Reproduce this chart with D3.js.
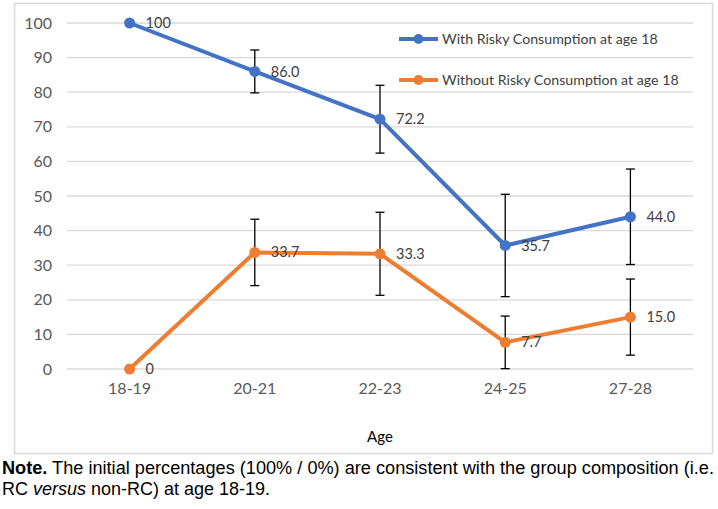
<!DOCTYPE html>
<html><head><meta charset="utf-8">
<script src="https://cdn.jsdelivr.net/npm/d3@7"></script>
<style>
body{margin:0;background:#fff;}
svg{display:block;}
</style></head>
<body>
<svg id="c" width="718" height="509"></svg>
<script>
const categories = ["18-19","20-21","22-23","24-25","27-28"];
const seriesNames = ["With Risky Consumption at age 18","Without Risky Consumption at age 18"];
const withRC = [100, 86.0, 72.2, 35.7, 44.0];
const withRCLabels = ["100","86.0","72.2","35.7","44.0"];
const withRCErr = [null, 6.2, 9.8, 14.8, 13.8];
const withoutRC = [0, 33.7, 33.3, 7.7, 15.0];
const withoutRCLabels = ["0","33.7","33.3","7.7","15.0"];
const withoutRCErr = [null, 9.6, 12.0, 7.6, 11.0];
const yTicks = [0,10,20,30,40,50,60,70,80,90,100];
const colors = ["#4472C4","#ED7D31"];

const svg = d3.select("#c");
const font = "Lato, 'Open Sans', sans-serif";
// chart border
svg.append("rect").attr("x",14.5).attr("y",3.5).attr("width",698).attr("height",450)
  .attr("fill","#fff").attr("stroke","#d9d9d9").attr("stroke-width",1.5);

const x = d3.scaleBand().domain(categories).range([67,693]);
const y = d3.scaleLinear().domain([0,100]).range([369,23]);
const cx = c => x(c) + x.bandwidth()/2;

// gridlines
svg.append("g").selectAll("line").data(yTicks).join("line")
  .attr("x1",67).attr("x2",693).attr("y1",d=>y(d)).attr("y2",d=>y(d))
  .attr("stroke","#d9d9d9").attr("stroke-width",1.3);

// y axis
const ya = svg.append("g").attr("transform","translate(67,0)")
  .call(d3.axisLeft(y).tickValues(yTicks).tickSize(0).tickPadding(15));
ya.select(".domain").remove();
ya.selectAll("text").attr("font-family",font).attr("font-size",16).attr("fill","#595959");

// x axis
const xa = svg.append("g").attr("transform","translate(0,369)")
  .call(d3.axisBottom(x).tickSize(0).tickPadding(14));
xa.select(".domain").remove();
xa.selectAll("text").attr("font-family",font).attr("font-size",16).attr("fill","#595959");

svg.append("text").attr("x",380).attr("y",442).attr("text-anchor","middle")
  .attr("font-family",font).attr("font-size",15).attr("fill","#000").text("Age");

const series = [
  {vals:withRC, labels:withRCLabels, err:withRCErr, color:colors[0]},
  {vals:withoutRC, labels:withoutRCLabels, err:withoutRCErr, color:colors[1]}
];
const line = d3.line().x((d,i)=>cx(categories[i])).y(d=>y(d));

series.forEach(s=>{
  svg.append("path").datum(s.vals).attr("d",line).attr("fill","none")
    .attr("stroke",s.color).attr("stroke-width",4).attr("stroke-linejoin","round");
});
// error bars
series.forEach(s=>{
  const g = svg.append("g").attr("stroke","#000").attr("stroke-width",1.3);
  s.vals.forEach((v,i)=>{
    const e = s.err[i]; if(e==null) return;
    const px = cx(categories[i]);
    g.append("line").attr("x1",px).attr("x2",px).attr("y1",y(v+e)).attr("y2",y(v-e));
    g.append("line").attr("x1",px-4.5).attr("x2",px+4.5).attr("y1",y(v+e)).attr("y2",y(v+e));
    g.append("line").attr("x1",px-4.5).attr("x2",px+4.5).attr("y1",y(v-e)).attr("y2",y(v-e));
  });
});
series.forEach(s=>{
  svg.append("g").selectAll("circle").data(s.vals).join("circle")
    .attr("cx",(d,i)=>cx(categories[i])).attr("cy",d=>y(d)).attr("r",5.5).attr("fill",s.color);
  svg.append("g").selectAll("text").data(s.vals).join("text")
    .attr("x",(d,i)=>cx(categories[i])+16).attr("y",d=>y(d)).attr("dy","0.35em")
    .attr("font-family",font).attr("font-size",14.5).attr("fill","#404040")
    .text((d,i)=>s.labels[i]);
});

// legend
seriesNames.forEach((n,i)=>{
  const ly = 39 + i*41;
  svg.append("line").attr("x1",399).attr("x2",438).attr("y1",ly).attr("y2",ly)
    .attr("stroke",colors[i]).attr("stroke-width",4);
  svg.append("circle").attr("cx",418.5).attr("cy",ly).attr("r",5).attr("fill",colors[i]);
  svg.append("text").attr("x",442).attr("y",ly).attr("dy","0.35em")
    .attr("font-family",font).attr("font-size",14.2).attr("fill","#404040").text(n);
});

// note
const nfont = "'Liberation Sans Narrow', 'Liberation Sans', Arial, sans-serif";
const note = svg.append("text").attr("x",2).attr("y",474)
  .attr("font-family",nfont).attr("font-size",17.5).attr("fill","#000")
  .attr("textLength",712).attr("lengthAdjust","spacingAndGlyphs");
note.append("tspan").attr("font-weight","bold").text("Note.");
note.append("tspan").text(" The initial percentages (100% / 0%) are consistent with the group composition (i.e.");
const note2 = svg.append("text").attr("x",2).attr("y",495)
  .attr("font-family",nfont).attr("font-size",17.5).attr("fill","#000")
  .attr("textLength",268).attr("lengthAdjust","spacingAndGlyphs");
note2.append("tspan").text("RC ");
note2.append("tspan").attr("font-style","italic").text("versus");
note2.append("tspan").text(" non-RC) at age 18-19.");
</script>
</body></html>
